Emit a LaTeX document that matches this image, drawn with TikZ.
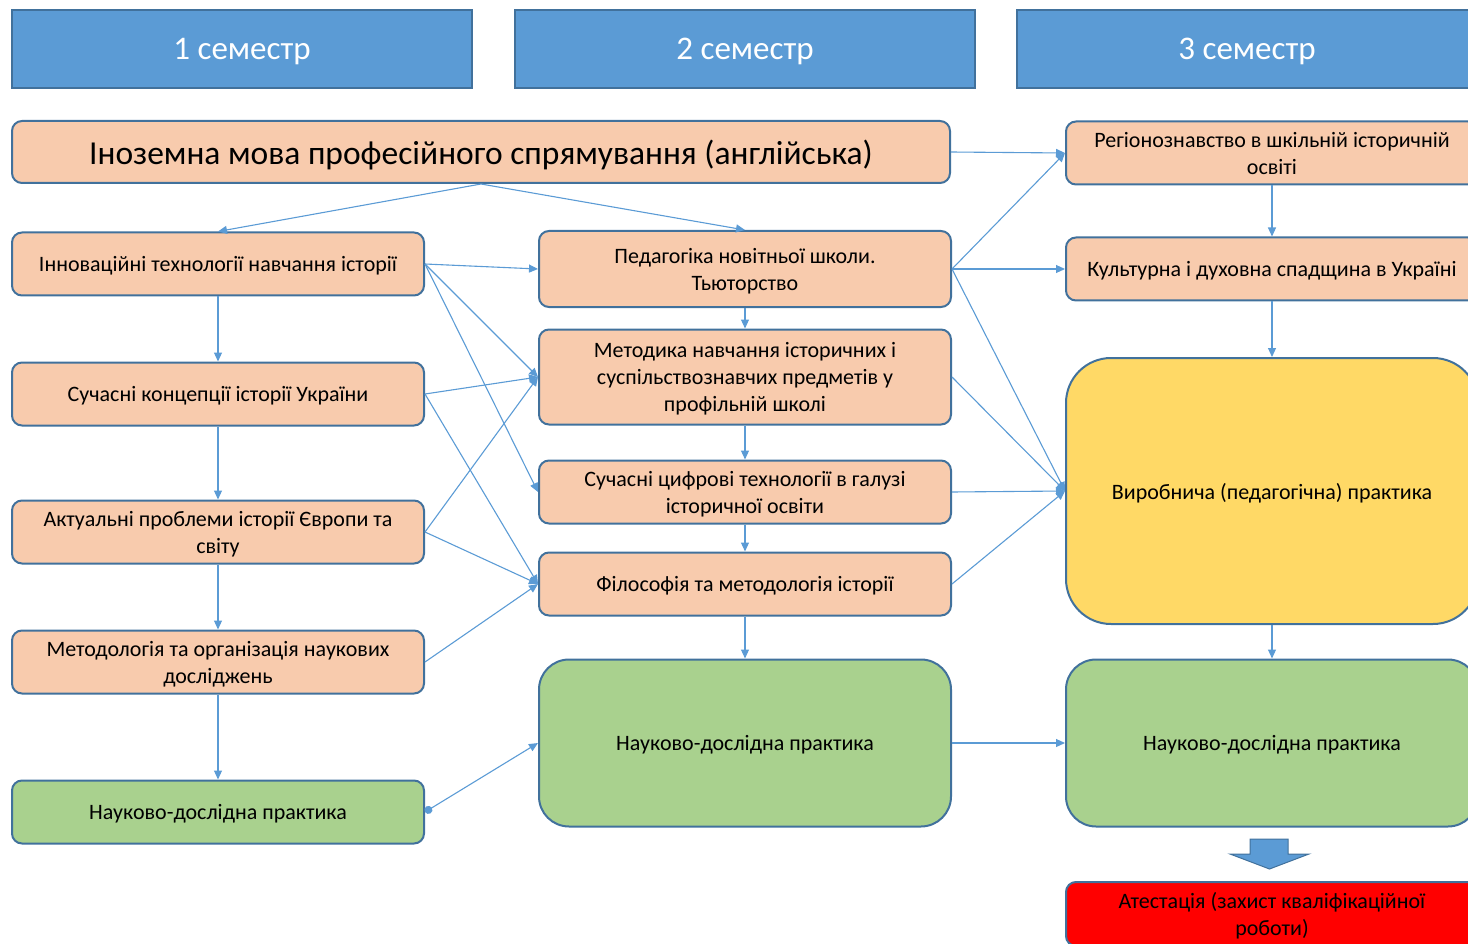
\documentclass[tikz,border=0pt]{standalone}
\usepackage{fontspec}
\setmainfont{Carlito}
\usetikzlibrary{arrows.meta}
\definecolor{hdr}{HTML}{5B9BD5}
\definecolor{edgeclr}{HTML}{41719C}
\definecolor{peach}{HTML}{F8CBAD}
\definecolor{grn}{HTML}{A9D18E}
\definecolor{yel}{HTML}{FFD966}
\definecolor{redfill}{HTML}{FF0000}
\definecolor{conn}{HTML}{5B9BD5}
\begin{document}
\begin{tikzpicture}[x=1pt,y=-1pt,
  hdrbox/.style={draw=edgeclr, line width=2pt, fill=hdr, text=white, text depth=0pt,
    font=\fontsize{33}{38}\selectfont, minimum width=460pt, minimum height=78pt, inner sep=0pt},
  box/.style={draw=edgeclr, line width=2pt, rounded corners=10pt, fill=peach,
    font=\fontsize{22}{27}\selectfont, align=center, inner sep=0pt, text depth=0pt,
    minimum width=412pt, minimum height=63pt},
  greenbox/.style={box, fill=grn},
  bigbox/.style={box, fill=grn, rounded corners=30pt, minimum height=167pt},
  conn/.style={draw=conn, line width=1.1pt, -{Triangle[length=9pt,width=8pt]}},
  dotconn/.style={draw=conn, line width=1.1pt, {Circle[length=8pt]}-{Triangle[length=9pt,width=8pt]}}
]
\useasboundingbox (0,0) rectangle (1468,944);
\clip (0,0) rectangle (1468,944);

% headers
\node[hdrbox] (h1) at (242,49) {1 семестр};
\node[hdrbox] (h2) at (745,49) {2 семестр};
\node[hdrbox] (h3) at (1247,49) {3 семестр};

% top wide box
\node[box, minimum width=938pt, minimum height=62pt, font=\fontsize{33.5}{38}\selectfont] (big) at (481,152)
  {Іноземна мова професійного спрямування (англійська)};

% column 1
\node[box] (n1) at (218,264) {Інноваційні технології навчання історії};
\node[box] (n2) at (218,394) {Сучасні концепції історії України};
\node[box] (n3) at (218,532) {Актуальні проблеми історії Європи та\\світу};
\node[box] (n4) at (218,662) {Методологія та організація наукових\\досліджень};
\node[greenbox] (n5) at (218,812) {Науково-дослідна практика};

% column 2
\node[box, minimum height=76pt] (m1) at (745,269) {Педагогіка новітньої школи.\\Тьюторство};
\node[box, minimum height=95pt] (m2) at (745,377) {Методика навчання історичних і\\суспільствознавчих предметів у\\профільній школі};
\node[box] (m3) at (745,492) {Сучасні цифрові технології в галузі\\історичної освіти};
\node[box] (m4) at (745,584) {Філософія та методологія історії};
\node[bigbox] (m5) at (745,743) {Науково-дослідна практика};

% column 3
\node[box] (r1) at (1272,153) {Регіонознавство в шкільній історичній\\освіті};
\node[box] (r2) at (1272,269) {Культурна і духовна спадщина в Україні};
\node[box, fill=yel, rounded corners=45pt, minimum height=266pt] (r3) at (1272,491) {Виробнича (педагогічна) практика};
\node[bigbox] (r4) at (1272,743) {Науково-дослідна практика};
\node[box, fill=redfill, minimum height=64pt] (r5) at (1272,914) {Атестація (захист кваліфікаційної\\роботи)};

% block arrow
\draw[draw=edgeclr, line width=1pt, fill=hdr]
  (1250,839) -- (1288,839) -- (1288,854) -- (1309,854) -- (1269.5,869) -- (1230,854) -- (1250,854) -- cycle;

% connectors from top box
\draw[conn] (big.south) -- (n1.north);
\draw[conn] (big.south) -- (m1.north);
\draw[conn] (big.east) -- (r1.west);

% column 1 verticals
\draw[conn] (n1.south) -- (n2.north);
\draw[conn] (n2.south) -- (n3.north);
\draw[conn] (n3.south) -- (n4.north);
\draw[conn] (n4.south) -- (n5.north);

% column 2 verticals
\draw[conn] (m1.south) -- (m2.north);
\draw[conn] (m2.south) -- (m3.north);
\draw[conn] (m3.south) -- (m4.north);
\draw[conn] (m4.south) -- (m5.north);

% column 3 verticals
\draw[conn] (r1.south) -- (r2.north);
\draw[conn] (r2.south) -- (r3.north);
\draw[conn] (r3.south) -- (r4.north);

% column 1 -> column 2
\draw[conn] (n1.east) -- (m1.west);
\draw[conn] (n1.east) -- (m2.west);
\draw[conn] (n1.east) -- (m3.west);
\draw[conn] (n2.east) -- (m2.west);
\draw[conn] (n2.east) -- (m4.west);
\draw[conn] (n3.east) -- (m2.west);
\draw[conn] (n3.east) -- (m4.west);
\draw[conn] (n4.east) -- (m4.west);
\draw[dotconn] (n5.east) -- (m5.west);

% column 2 -> column 3
\draw[conn] (m1.east) -- (r1.west);
\draw[conn] (m1.east) -- (r2.west);
\draw[conn] (m1.east) -- (r3.west);
\draw[conn] (m2.east) -- (r3.west);
\draw[conn] (m3.east) -- (r3.west);
\draw[conn] (m4.east) -- (r3.west);
\draw[conn] (m5.east) -- (r4.west);
\end{tikzpicture}
\end{document}
